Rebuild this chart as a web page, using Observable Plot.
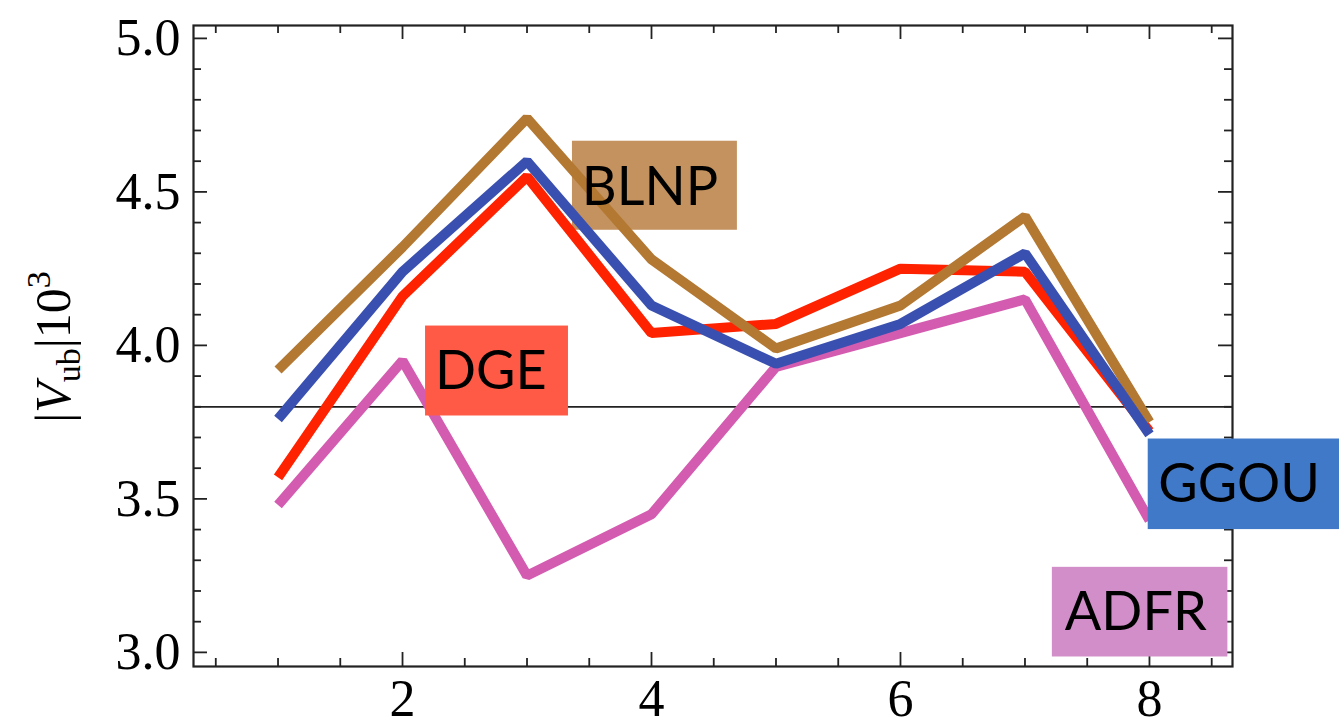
<!DOCTYPE html>
<html>
<head>
<meta charset="utf-8">
<script src="https://cdn.jsdelivr.net/npm/d3@7"></script>
<script src="https://cdn.jsdelivr.net/npm/@observablehq/plot@0.6"></script>
<style>
  html, body { margin: 0; padding: 0; background: white; }
</style>
</head>
<body>
<div id="chart"></div>
<script>
// ---- data ----
const xValues = [1, 2, 3, 4, 5, 6, 7, 8];
const blnp = [3.92, 4.32, 4.74, 4.28, 3.99, 4.13, 4.42, 3.75];
const ggou = [3.76, 4.24, 4.60, 4.13, 3.94, 4.07, 4.30, 3.71];
const dge  = [3.57, 4.16, 4.55, 4.04, 4.07, 4.25, 4.24, 3.72];
const adfr = [3.48, 3.95, 3.25, 3.45, 3.93, 4.04, 4.15, 3.43];
const seriesNames = ["ADFR", "DGE", "BLNP", "GGOU"]; // draw order
const referenceValue = 3.8;

const xTickLabels = [2, 4, 6, 8];
const yTickLabels = [3.0, 3.5, 4.0, 4.5, 5.0];
const xMinorTicks = [0.5,1,1.5,2,2.5,3,3.5,4,4.5,5,5.5,6,6.5,7,7.5,8,8.5];
const yMinorTicks = [3.0,3.1,3.2,3.3,3.4,3.5,3.6,3.7,3.8,3.9,4.0,4.1,4.2,4.3,4.4,4.5,4.6,4.7,4.8,4.9,5.0];

// label annotations (box extents in data units)
const labelNames = ["BLNP", "DGE", "GGOU", "ADFR"];
const labelBoxX1 = [3.365, 2.185, 7.99, 7.22];
const labelBoxX2 = [4.69, 3.333, 9.8, 8.63];
const labelBoxY1 = [4.375, 3.77, 3.40, 2.985];
const labelBoxY2 = [4.665, 4.063, 3.695, 3.277];
const labelTextX = [3.44, 2.26, 8.07, 7.32];
const labelTextY = [4.515, 3.915, 3.547, 3.13];

// ---- styles ----
const lineColors = {BLNP: "#b37832", GGOU: "#3a50b0", DGE: "#ff2200", ADFR: "#d45cb0"};
const boxColors = {BLNP: "#c4925e", GGOU: "#4179c9", DGE: "#ff5a45", ADFR: "#d18ec8"};

const seriesValues = {BLNP: blnp, GGOU: ggou, DGE: dge, ADFR: adfr};
const lineData = seriesNames.flatMap(name =>
  xValues.map((x, i) => ({series: name, x, y: seriesValues[name][i]})));
const labels = labelNames.map((name, i) => ({
  name, x1: labelBoxX1[i], x2: labelBoxX2[i], y1: labelBoxY1[i], y2: labelBoxY2[i],
  tx: labelTextX[i], ty: labelTextY[i]
}));

const W = 1339, H = 726;
const mL = 193, mR = 107, mT = 25, mB = 60;
const pw = W - mL - mR, ph = H - mT - mB;
const majorLen = 14, minorLen = 8;
const xMajor = xMinorTicks.filter(d => xTickLabels.includes(d));
const xMin = xMinorTicks.filter(d => !xTickLabels.includes(d));
const yMajor = yMinorTicks.filter(d => yTickLabels.some(t => Math.abs(t - d) < 1e-9));
const yMin = yMinorTicks.filter(d => !yTickLabels.some(t => Math.abs(t - d) < 1e-9));

const tickStyle = {stroke: "#222", strokeWidth: 1.8};

const chart = Plot.plot({
  width: W, height: H,
  marginLeft: mL, marginRight: mR, marginTop: mT, marginBottom: mB,
  x: {domain: [0.321, 8.667]},
  y: {domain: [2.954, 5.042]},
  style: {background: "white", color: "black", fontFamily: "Liberation Serif"},
  marks: [
    Plot.axisX(xTickLabels, {tickSize: 0, tickPadding: 13, fontSize: 52, fontFamily: "Liberation Serif", tickFormat: d3.format("d"), label: null}),
    Plot.axisY(yTickLabels, {tickSize: 0, tickPadding: 13, fontSize: 52, fontFamily: "Liberation Serif", tickFormat: d3.format(".1f"), label: null}),
    // inward frame ticks
    Plot.ruleX(xMajor, {x: d => d, insetTop: ph - majorLen, ...tickStyle}),
    Plot.ruleX(xMin, {x: d => d, insetTop: ph - minorLen, ...tickStyle}),
    Plot.ruleX(xMajor, {x: d => d, insetBottom: ph - majorLen, ...tickStyle}),
    Plot.ruleX(xMin, {x: d => d, insetBottom: ph - minorLen, ...tickStyle}),
    Plot.ruleY(yMajor, {y: d => d, insetRight: pw - majorLen, ...tickStyle}),
    Plot.ruleY(yMin, {y: d => d, insetRight: pw - minorLen, ...tickStyle}),
    Plot.ruleY(yMajor, {y: d => d, insetLeft: pw - majorLen, ...tickStyle}),
    Plot.ruleY(yMin, {y: d => d, insetLeft: pw - minorLen, ...tickStyle}),
    Plot.ruleY([referenceValue], {stroke: "#222", strokeWidth: 1.8}),
    Plot.frame({stroke: "#222", strokeWidth: 2.2}),
    Plot.rect(labels.filter(d => d.name === "BLNP"), {x1: "x1", x2: "x2", y1: "y1", y2: "y2", fill: d => boxColors[d.name]}),
    Plot.line(lineData, {x: "x", y: "y", z: "series", stroke: d => lineColors[d.series], strokeWidth: 10, strokeLinejoin: "miter", strokeLinecap: "butt"}),
    Plot.rect(labels.filter(d => d.name !== "BLNP"), {x1: "x1", x2: "x2", y1: "y1", y2: "y2", fill: d => boxColors[d.name]}),
    Plot.text(labels, {x: "tx", y: "ty", text: "name", textAnchor: "start", fontSize: 54, fontFamily: "Lato", fill: "black"})
  ]
});

// y-axis title with subscript and superscript
const svg = d3.select(chart);
const title = svg.append("text")
  .attr("transform", "translate(70,347) rotate(-90)")
  .attr("text-anchor", "middle")
  .attr("font-family", "Liberation Serif")
  .attr("font-size", 50)
  .attr("fill", "black");
title.append("tspan").text("|");
title.append("tspan").attr("font-style", "italic").text("V");
title.append("tspan").attr("font-size", 34).attr("dy", 10).text("ub");
title.append("tspan").attr("dy", -10).text("|10");
title.append("tspan").attr("font-size", 34).attr("dy", -20).text("3");

document.getElementById("chart").appendChild(chart);
</script>
</body>
</html>
